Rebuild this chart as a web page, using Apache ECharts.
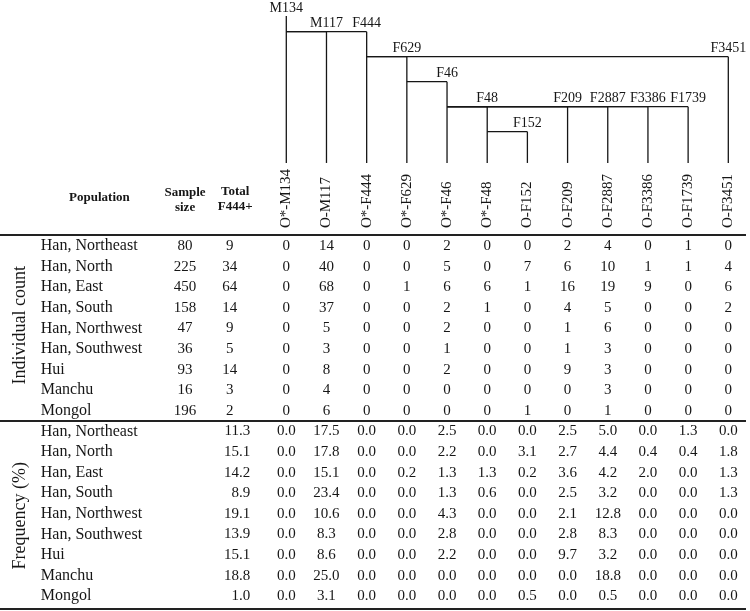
<!DOCTYPE html>
<html>
<head>
<meta charset="utf-8">
<script src="https://cdn.jsdelivr.net/npm/echarts@6/dist/echarts.min.js"></script>
<style>
  html, body { margin: 0; padding: 0; background: #fff; }
  #chart { width: 750px; height: 611px; }
</style>
</head>
<body>
<div id="chart"></div>
<script>
// leaf haplogroups, one table column each
const haplogroups = ['O*-M134', 'O-M117', 'O*-F444', 'O*-F629', 'O*-F46', 'O*-F48',
  'O-F152', 'O-F209', 'O-F2887', 'O-F3386', 'O-F1739', 'O-F3451']

// tree nodes (node i sits above column i), parent and depth
const treeNodes = ['M134', 'M117', 'F444', 'F629', 'F46', 'F48',
  'F152', 'F209', 'F2887', 'F3386', 'F1739', 'F3451']
const treeParents = [null, 'M134', 'M134', 'F444', 'F629', 'F46',
  'F48', 'F46', 'F46', 'F46', 'F46', 'F444']
const treeDepth = [0, 1, 1, 2, 3, 4, 5, 4, 4, 4, 4, 2]

const populations = ['Han, Northeast', 'Han, North', 'Han, East', 'Han, South',
  'Han, Northwest', 'Han, Southwest', 'Hui', 'Manchu', 'Mongol']
const sampleSize = [80, 225, 450, 158, 47, 36, 93, 16, 196]
const totalCount = [9, 34, 64, 14, 9, 5, 14, 3, 2]
const totalFreq = [11.3, 15.1, 14.2, 8.9, 19.1, 13.9, 15.1, 18.8, 1.0]

const individualCount = [
  [0, 14, 0, 0, 2, 0, 0, 2, 4, 0, 1, 0],
  [0, 40, 0, 0, 5, 0, 7, 6, 10, 1, 1, 4],
  [0, 68, 0, 1, 6, 6, 1, 16, 19, 9, 0, 6],
  [0, 37, 0, 0, 2, 1, 0, 4, 5, 0, 0, 2],
  [0, 5, 0, 0, 2, 0, 0, 1, 6, 0, 0, 0],
  [0, 3, 0, 0, 1, 0, 0, 1, 3, 0, 0, 0],
  [0, 8, 0, 0, 2, 0, 0, 9, 3, 0, 0, 0],
  [0, 4, 0, 0, 0, 0, 0, 0, 3, 0, 0, 0],
  [0, 6, 0, 0, 0, 0, 1, 0, 1, 0, 0, 0]
]

const frequency = [
  [0.0, 17.5, 0.0, 0.0, 2.5, 0.0, 0.0, 2.5, 5.0, 0.0, 1.3, 0.0],
  [0.0, 17.8, 0.0, 0.0, 2.2, 0.0, 3.1, 2.7, 4.4, 0.4, 0.4, 1.8],
  [0.0, 15.1, 0.0, 0.2, 1.3, 1.3, 0.2, 3.6, 4.2, 2.0, 0.0, 1.3],
  [0.0, 23.4, 0.0, 0.0, 1.3, 0.6, 0.0, 2.5, 3.2, 0.0, 0.0, 1.3],
  [0.0, 10.6, 0.0, 0.0, 4.3, 0.0, 0.0, 2.1, 12.8, 0.0, 0.0, 0.0],
  [0.0, 8.3, 0.0, 0.0, 2.8, 0.0, 0.0, 2.8, 8.3, 0.0, 0.0, 0.0],
  [0.0, 8.6, 0.0, 0.0, 2.2, 0.0, 0.0, 9.7, 3.2, 0.0, 0.0, 0.0],
  [0.0, 25.0, 0.0, 0.0, 0.0, 0.0, 0.0, 0.0, 18.8, 0.0, 0.0, 0.0],
  [0.0, 3.1, 0.0, 0.0, 0.0, 0.0, 0.5, 0.0, 0.5, 0.0, 0.0, 0.0]
]

// layout (x in column units, y in tree levels / table rows)
const FONT = 'Liberation Serif'
const INK = '#161616'
const ROOT_TOP = 0.37
const LEAF_LEVEL = 6.25
const LABEL_LIFT = 0.32
const COL_SIDE = -6.63
const COL_NAME = -6.11
const COL_POP_HEAD = -4.65
const COL_SAMPLE = -2.52
const COL_TOTAL = -1.41
const COL_TOTAL_FREQ = -0.9
const COL_TOTAL_HEAD = -1.27
const FREQ_ROW0 = 9
const RULES = [-0.53, 8.5, 17.62]
const X_MIN = -7.125
const X_MAX = 11.5

function txt(p, text, font, align, vAlign, rotation) {
  return {
    type: 'text',
    x: p[0],
    y: p[1],
    rotation: rotation || 0,
    style: { text: text, font: font, fill: INK, align: align, verticalAlign: vAlign, lineHeight: 15 }
  }
}

// table cells, built from the arrays above
const cells = []
const body = '15px ' + FONT
const nameFont = '16px ' + FONT
populations.forEach((name, r) => {
  const fr = FREQ_ROW0 + r
  cells.push([COL_NAME, r, name, 'left', nameFont])
  cells.push([COL_SAMPLE, r, String(sampleSize[r]), 'center', body])
  cells.push([COL_TOTAL, r, String(totalCount[r]), 'center', body])
  individualCount[r].forEach((v, c) => cells.push([c, r, String(v), 'center', body]))
  cells.push([COL_NAME, fr, name, 'left', nameFont])
  cells.push([COL_TOTAL_FREQ, fr, totalFreq[r].toFixed(1), 'right', body])
  frequency[r].forEach((v, c) => cells.push([c, fr, v.toFixed(1), 'center', body]))
})
const head = 'bold 13px ' + FONT
cells.push([COL_POP_HEAD, -2.33, 'Population', 'center', head])
cells.push([COL_SAMPLE, -2.23, 'Sample\nsize', 'center', head])
cells.push([COL_TOTAL_HEAD, -2.28, 'Total\nF444+', 'center', head])

const chart = echarts.init(document.getElementById('chart'))

chart.setOption({
  backgroundColor: '#fff',
  animation: false,
  grid: [
    { left: 0, right: 1.6, top: 0.45, height: 162.5 },
    { left: 0, right: 1.6, top: 173.9, bottom: 0.4 }
  ],
  xAxis: [
    { gridIndex: 0, type: 'value', min: X_MIN, max: X_MAX, show: false },
    { gridIndex: 1, type: 'value', min: X_MIN, max: X_MAX, show: false }
  ],
  yAxis: [
    { gridIndex: 0, type: 'value', min: -0.25, max: LEAF_LEVEL, inverse: true, show: false },
    { gridIndex: 1, type: 'value', min: -3.5, max: 17.7, inverse: true, show: false }
  ],
  series: [
    {
      // haplogroup tree
      type: 'custom',
      xAxisIndex: 0,
      yAxisIndex: 0,
      data: treeNodes.map((n, i) => [i, treeDepth[i]]),
      renderItem(params, api) {
        const i = params.dataIndex
        const d = treeDepth[i]
        const top = d === 0 ? ROOT_TOP : d
        const line = (a, b) => ({
          type: 'line',
          shape: { x1: a[0], y1: a[1], x2: b[0], y2: b[1] },
          style: { stroke: INK, lineWidth: 1.3 }
        })
        const children = [line(api.coord([i, top]), api.coord([i, LEAF_LEVEL]))]
        const p = treeParents[i]
        if (p) {
          children.push(line(api.coord([treeNodes.indexOf(p), d]), api.coord([i, d])))
        }
        children.push(txt(api.coord([i, top - LABEL_LIFT]), treeNodes[i], '14px ' + FONT, 'center', 'middle'))
        return { type: 'group', children: children }
      }
    },
    {
      // rotated column heads
      type: 'custom',
      xAxisIndex: 1,
      yAxisIndex: 1,
      data: haplogroups.map((h, i) => [i, -0.87]),
      renderItem(params, api) {
        const p = api.coord([api.value(0), api.value(1)])
        return txt(p, haplogroups[params.dataIndex], '15px ' + FONT, 'left', 'middle', Math.PI / 2)
      }
    },
    {
      // table body and header
      type: 'custom',
      xAxisIndex: 1,
      yAxisIndex: 1,
      data: cells.map(c => [c[0], c[1]]),
      renderItem(params, api) {
        const c = cells[params.dataIndex]
        return txt(api.coord([c[0], c[1]]), c[2], c[4], c[3], 'middle')
      }
    },
    {
      // section labels
      type: 'custom',
      xAxisIndex: 1,
      yAxisIndex: 1,
      data: [[COL_SIDE, 3.85, 0], [COL_SIDE, 13.1, 1]],
      renderItem(params, api) {
        const label = ['Individual count', 'Frequency (%)'][params.dataIndex]
        return txt(api.coord([api.value(0), api.value(1)]), label, '18px ' + FONT, 'center', 'middle', Math.PI / 2)
      }
    },
    {
      // horizontal rules
      type: 'custom',
      xAxisIndex: 1,
      yAxisIndex: 1,
      data: RULES.map(r => [X_MIN, r]),
      renderItem(params, api) {
        const a = api.coord([X_MIN, api.value(1)])
        const b = api.coord([11.44, api.value(1)])
        return {
          type: 'line',
          shape: { x1: a[0], y1: a[1], x2: b[0], y2: b[1] },
          style: { stroke: '#222', lineWidth: 2 }
        }
      }
    }
  ]
})
</script>
</body>
</html>
